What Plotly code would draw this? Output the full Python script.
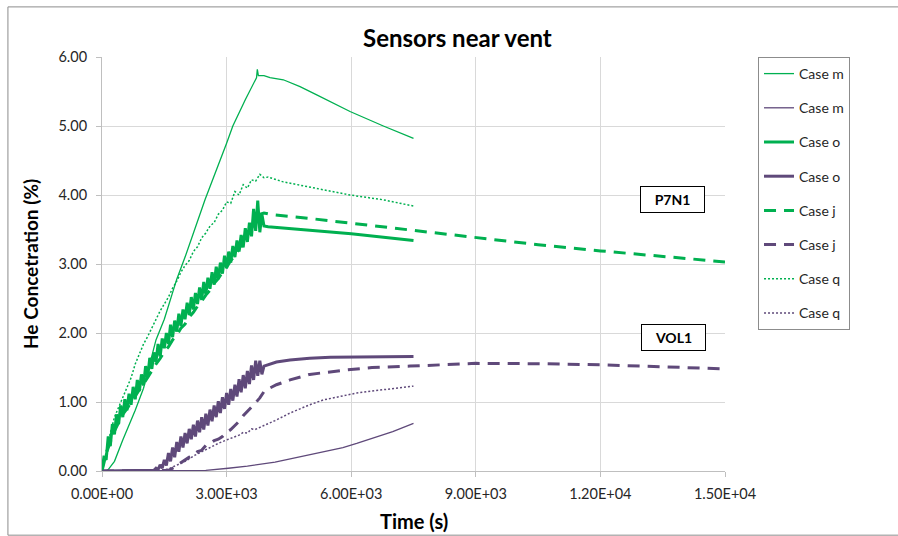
import plotly.graph_objects as go

# ---- Time axis values (s) and He concentration (%) for each sensor/case ----

# P7N1 sensor (green)
t_m_p7 = [0, 100, 150, 300, 500, 800, 1000, 1300, 1500, 1800, 2000, 2480, 3000, 3150,
          3450, 3650, 3720, 3740, 3765, 3900, 4045, 4366, 4768, 5170, 5972, 6774, 7500]
y_m_p7 = [0, 0.0, 0.02, 0.14, 0.45, 0.88, 1.2, 1.9, 2.2, 2.78, 3.1, 3.93, 4.75, 5.0,
          5.38, 5.62, 5.70, 5.82, 5.73, 5.73, 5.70, 5.67, 5.57, 5.45, 5.21, 5.0, 4.82]

t_o_p7 = list(range(0, 3950, 50)) + [4000, 5000, 6000, 7500]
y_o_p7 = [0, 0.22, 0.16, 0.5, 0.36, 0.68, 0.53, 0.82, 0.68, 0.95,
          0.78, 1.04, 0.88, 1.12, 0.96, 1.22, 1.04, 1.32, 1.16, 1.4,
          1.24, 1.52, 1.36, 1.64, 1.48, 1.72, 1.58, 1.84, 1.66, 1.92,
          1.78, 2.0, 1.84, 2.12, 1.94, 2.18, 2.02, 2.28, 2.1, 2.34,
          2.2, 2.44, 2.26, 2.52, 2.34, 2.58, 2.42, 2.66, 2.48, 2.74,
          2.56, 2.8, 2.64, 2.88, 2.7, 2.96, 2.78, 3.02, 2.86, 3.12,
          2.94, 3.18, 3.02, 3.26, 3.1, 3.34, 3.18, 3.42, 3.24, 3.52,
          3.32, 3.6, 3.4, 3.8, 3.48, 3.92, 3.46, 3.72, 3.55,
          3.54, 3.49, 3.44, 3.34]

t_j_p7 = list(range(0, 4000, 100)) + [4045, 5000, 6000, 7500, 9000, 10500, 12000, 13500, 15000]
y_j_p7 = [0, 0.25, 0.42, 0.58, 0.7, 0.82, 0.9, 1.0, 1.08, 1.18,
          1.26, 1.36, 1.45, 1.55, 1.63, 1.73, 1.8, 1.9, 1.97, 2.07,
          2.13, 2.23, 2.3, 2.39, 2.46, 2.55, 2.62, 2.72, 2.79, 2.88,
          2.95, 3.05, 3.12, 3.22, 3.3, 3.4, 3.5, 3.62, 3.72, 3.74,
          3.72, 3.66, 3.59, 3.48, 3.38, 3.28, 3.19, 3.11, 3.03]

t_q_p7 = list(range(0, 4100, 100)) + [4366, 5170, 5972, 6774, 7500]
y_q_p7 = [0, 0.3, 0.55, 0.78, 0.92, 1.08, 1.22, 1.35, 1.55, 1.7,
          1.84, 1.95, 2.08, 2.2, 2.32, 2.42, 2.52, 2.65, 2.75, 2.88,
          2.98, 3.05, 3.18, 3.25, 3.38, 3.45, 3.55, 3.6, 3.72, 3.78,
          3.9, 3.88, 4.05, 4.0, 4.15, 4.1, 4.22, 4.2, 4.3, 4.25,
          4.26, 4.19, 4.10, 4.0, 3.93, 3.84]

# VOL1 sensor (purple)
t_m_vol = [0, 2000, 2500, 3041, 3500, 4166, 4800, 5329, 5800, 6133, 6600, 7000, 7500]
y_m_vol = [0, 0, 0.01, 0.04, 0.07, 0.13, 0.21, 0.27, 0.34, 0.40, 0.49, 0.57, 0.69]

t_o_vol = [0] + list(range(1200, 3950, 50)) + [4000, 4200, 4527, 5000, 5500, 6133, 7500]
y_o_vol = [0, 0.0, 0.01, 0.04, 0.02, 0.09, 0.04, 0.16, 0.08, 0.26, 0.14,
           0.34, 0.2, 0.42, 0.28, 0.5, 0.34, 0.55, 0.4, 0.61, 0.46,
           0.67, 0.5, 0.73, 0.56, 0.78, 0.6, 0.83, 0.66, 0.89, 0.72,
           0.95, 0.78, 1.01, 0.84, 1.07, 0.9, 1.13, 0.96, 1.19, 1.02,
           1.25, 1.08, 1.33, 1.14, 1.39, 1.2, 1.45, 1.26, 1.53, 1.32,
           1.6, 1.38, 1.6, 1.4, 1.52,
           1.54, 1.58, 1.61, 1.635, 1.648, 1.655, 1.66]

t_j_vol = [0, 1500, 1600, 1700, 1800, 1900, 2000, 2100, 2200, 2300, 2400, 2500, 2600,
           2700, 2800, 2900, 3000, 3100, 3200, 3300, 3400, 3500, 3600, 3700, 3800,
           3900, 4000, 4200, 4527, 5000, 5811, 6500, 7416, 9000, 10500, 12000, 13500, 15000]
y_j_vol = [0, 0, 0.01, 0.04, 0.08, 0.12, 0.16, 0.2, 0.22, 0.28, 0.3, 0.37, 0.4,
           0.44, 0.46, 0.5, 0.56, 0.6, 0.66, 0.72, 0.8, 0.86, 0.92, 0.99, 1.06,
           1.15, 1.19, 1.25, 1.32, 1.4, 1.46, 1.5, 1.52, 1.56, 1.555, 1.54, 1.51, 1.48]

t_q_vol = [0, 1400, 1600, 1800, 2000, 2240, 2500, 2800, 3041, 3300, 3400, 3500, 3600,
           3684, 3900, 4166, 4527, 5000, 5329, 5700, 6133, 6800, 7500]
y_q_vol = [0, 0, 0.03, 0.08, 0.14, 0.23, 0.31, 0.4, 0.46, 0.52, 0.56, 0.55, 0.61,
           0.6, 0.66, 0.73, 0.84, 0.96, 1.03, 1.08, 1.13, 1.18, 1.23]

x_ticks = [0, 3000, 6000, 9000, 12000, 15000]
x_tick_text = ["0.00E+00", "3.00E+03", "6.00E+03", "9.00E+03", "1.20E+04", "1.50E+04"]
y_ticks = [0, 1, 2, 3, 4, 5, 6]
y_tick_text = ["0.00", "1.00", "2.00", "3.00", "4.00", "5.00", "6.00"]

GREEN = "#00b050"
PURPLE = "#5f497a"
FONT = "Lato"
TEXT = "#262626"

series = [
    ("Case m", t_m_p7, y_m_p7, GREEN, 1.3, "solid"),
    ("Case m", t_m_vol, y_m_vol, PURPLE, 1.3, "solid"),
    ("Case o", t_o_p7, y_o_p7, GREEN, 3, "solid"),
    ("Case o", t_o_vol, y_o_vol, PURPLE, 3, "solid"),
    ("Case j", t_j_p7, y_j_p7, GREEN, 3, "12px,8px"),
    ("Case j", t_j_vol, y_j_vol, PURPLE, 3, "12px,8px"),
    ("Case q", t_q_p7, y_q_p7, GREEN, 1.5, "2px,2px"),
    ("Case q", t_q_vol, y_q_vol, PURPLE, 1.5, "2px,2px"),
]

fig = go.Figure()
for i, (name, tx, ty, color, width, dash) in enumerate(series):
    fig.add_trace(go.Scatter(
        x=tx, y=ty, name=name, mode="lines", legendgroup=f"g{i}",
        line=dict(color=color, width=width, dash=dash),
    ))

axis_style = dict(
    showgrid=True, gridcolor="#d9d9d9", gridwidth=1,
    showline=True, linecolor="#bfbfbf", linewidth=1,
    ticks="outside", ticklen=5, tickcolor="#bfbfbf",
    zeroline=False,
    tickfont=dict(family=FONT, size=14.5, color=TEXT),
)

fig.update_layout(
    width=898, height=536,
    margin=dict(l=102, r=173, t=57, b=65),
    paper_bgcolor="white", plot_bgcolor="white",
    font=dict(family=FONT, color=TEXT, size=14),
    showlegend=True,
    legend=dict(
        x=1.053, y=1.0, xanchor="left", yanchor="top",
        bordercolor="#8c8c8c", borderwidth=1, bgcolor="white",
        font=dict(family=FONT, size=14, color=TEXT),
        tracegroupgap=13, traceorder="grouped",
    ),
    xaxis=dict(range=[0, 15000], tickvals=x_ticks, ticktext=x_tick_text,
               ticklabelstandoff=5, **axis_style),
    yaxis=dict(range=[0, 6], tickvals=y_ticks, ticktext=y_tick_text,
               ticklabelstandoff=6, **axis_style),
    shapes=[
        dict(type="rect", xref="paper", yref="paper",
             x0=-0.151, x1=1.35, y0=-0.155, y1=1.121,
             line=dict(color="#8c8c8c", width=1), layer="below"),
    ],
    annotations=[
        dict(text="<b>Sensors near vent</b>", xref="paper", yref="paper",
             x=0.571, y=1.048, xanchor="center", yanchor="middle", showarrow=False,
             font=dict(family=FONT, size=24, color="#000000")),
        dict(text="<b>He Concetration (%)</b>", xref="paper", yref="paper",
             x=-0.1156, y=0.5, xanchor="center", yanchor="middle",
             textangle=-90, showarrow=False,
             font=dict(family=FONT, size=19, color="#000000")),
        dict(text="<b>Time (s)</b>", xref="paper", yref="paper",
             x=0.5, y=-0.121, xanchor="center", yanchor="middle", showarrow=False,
             font=dict(family=FONT, size=20, color="#000000")),
        dict(text="<b>P7N1</b>", x=13726, y=3.93, xref="x", yref="y",
             showarrow=False, bordercolor="#000000", borderwidth=1,
             borderpad=4, bgcolor="white", width=55,
             font=dict(family=FONT, size=14, color="#000000")),
        dict(text="<b>VOL1</b>", x=13750, y=1.94, xref="x", yref="y",
             showarrow=False, bordercolor="#000000", borderwidth=1,
             borderpad=4, bgcolor="white", width=55,
             font=dict(family=FONT, size=14, color="#000000")),
    ],
)

fig.write_html("out.html")
